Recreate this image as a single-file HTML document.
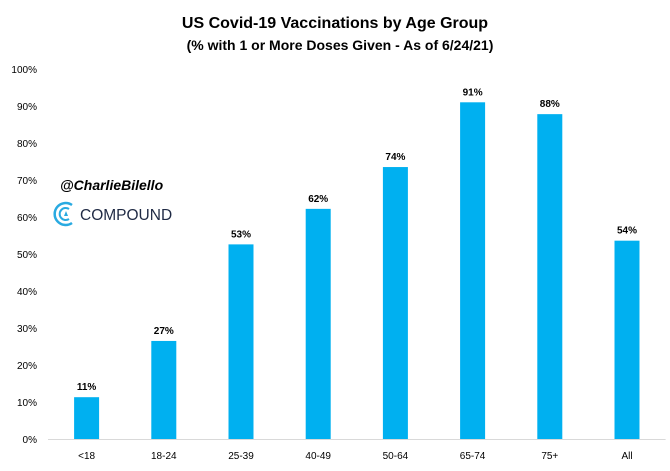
<!DOCTYPE html>
<html><head><meta charset="utf-8"><style>
body{margin:0;background:#fff;}
svg{display:block;font-family:"Liberation Sans",sans-serif;}
</style></head><body>
<svg id="chart" width="670" height="471">
<rect x="0" y="0" width="670" height="471" fill="#fff"/>
<text x="335" y="28" text-anchor="middle" font-size="16" font-weight="bold" fill="#000">US Covid-19 Vaccinations by Age Group</text>
<text x="340" y="50" text-anchor="middle" font-size="14" font-weight="bold" fill="#000">(% with 1 or More Doses Given - As of 6/24/21)</text>
<text x="60" y="190" font-size="14" font-weight="bold" font-style="italic" fill="#000">@CharlieBilello</text>
<g>
<path d="M72 205 A11 11 0 1 0 72 223" fill="none" stroke="#29aae1" stroke-width="2.5"/>
<path d="M69 209 A6 6 0 1 0 69 219" fill="none" stroke="#29aae1" stroke-width="2"/>
<polygon points="64,216 66,211 68,216" fill="#29aae1"/>
<text x="80" y="220" font-size="15.5" fill="#1f2a44">COMPOUND</text>
</g>
<g id="axes"></g>
<g id="bars"></g>
</svg>
<script>
const categories=["<18","18-24","25-39","40-49","50-64","65-74","75+","All"];
const values=[11.3,26.5,52.6,62.2,73.5,91,87.8,53.6];
const labels=["11%","27%","53%","62%","74%","91%","88%","54%"];
const ticks=[0,10,20,30,40,50,60,70,80,90,100];
const NS="http://www.w3.org/2000/svg";
const y0=439,y1=69,x0=48,step=77.2,bw=25;
function yScale(v){return y0-(v/100)*(y0-y1);}
function xScale(i){return x0+step*(i+0.5);}
const axes=document.getElementById('axes'),bars=document.getElementById('bars');
function mk(tag,attrs,parent,txt){const e=document.createElementNS(NS,tag);for(const k in attrs)e.setAttribute(k,attrs[k]);if(txt!==undefined)e.textContent=txt;parent.appendChild(e);return e;}
ticks.forEach(t=>{
const e=mk('text',{x:37,y:yScale(t)+4,'text-anchor':'end','font-size':10,fill:'#000'},axes,t+'%');


});
const ax=mk('line',{x1:x0,x2:x0+step*8,y1:y0+0.5,y2:y0+0.5,stroke:'#d9d9d9','stroke-width':1},axes);


categories.forEach((c,i)=>{
const cx=xScale(i);
const r=mk('rect',{x:cx-bw/2,y:yScale(values[i]),width:bw,height:y0-yScale(values[i]),fill:'#00b0f0'},bars);


const l=mk('text',{x:cx,y:yScale(values[i])-7,'text-anchor':'middle','font-size':10,'font-weight':'bold',fill:'#000'},bars,labels[i]);


const t=mk('text',{x:cx,y:459,'text-anchor':'middle','font-size':10,fill:'#000'},axes,c);


});
</script>
</body></html>
